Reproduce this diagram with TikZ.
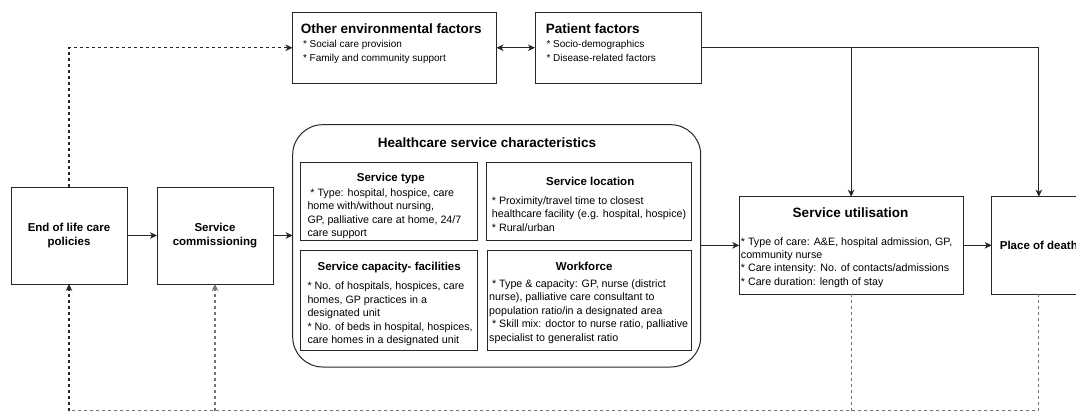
\documentclass[tikz,border=0pt]{standalone}
\usepackage{fontspec}
\setmainfont{Liberation Sans}
\usetikzlibrary{arrows.meta}
% strut that fixes the height of the first line of a text block
\newcommand\firstln{\rule{0pt}{0.8em}}
\begin{document}
\begin{tikzpicture}[x=1pt,y=-1pt,
  box/.style={draw=black!85, line width=1pt, inner sep=0pt, outer sep=0pt, anchor=north west},
  tip/.style={-{Stealth[length=7pt,width=6.5pt,inset=2pt]}},
  flow/.style={draw=black!85, line width=1pt, tip},
  dotdark/.style={draw=black!85, line width=1.2pt, dash pattern=on 3pt off 3pt},
  dotgray/.style={draw=black!55, line width=1.2pt, dash pattern=on 3pt off 3pt},
  head/.style={font=\fontsize{13.5}{16}\selectfont\bfseries, inner sep=0pt, anchor=base},
  subhead/.style={font=\fontsize{11.5}{14}\selectfont\bfseries, inner sep=0pt, anchor=base},
  small/.style={font=\fontsize{10}{14.1}\selectfont, inner sep=0pt, anchor=north west, align=left},
  body/.style={font=\fontsize{10.7}{13.5}\selectfont, inner sep=0pt, anchor=north west, align=left},
  sbody/.style={font=\fontsize{10.7}{13.33}\selectfont, inner sep=0pt, anchor=north west, align=left},
  label/.style={font=\fontsize{11.5}{14}\selectfont\bfseries, align=center},
]
\useasboundingbox (0,0) rectangle (1076,412);
\clip (0,0) rectangle (1076,412);

% ---- boxes ----
\node[box, minimum width=204, minimum height=70.5] (env) at (292.5,12.5) {};
\node[box, minimum width=166, minimum height=70.5] (pat) at (535,12.5) {};
\node[box, minimum width=116, minimum height=97, label] (eol) at (11,187) {End of life care\\policies};
\node[box, minimum width=116, minimum height=97, label] (com) at (157,187) {Service\\commissioning};
\node[box, rounded corners=30pt, minimum width=408, minimum height=242.3] (hsc) at (292.7,124.7) {};
\node[box, minimum width=176.6, minimum height=77.9] (stype) at (300.7,162.3) {};
\node[box, minimum width=204.1, minimum height=78.2] (sloc) at (486.9,162.3) {};
\node[box, minimum width=176.6, minimum height=100] (scap) at (300.7,250) {};
\node[box, minimum width=203.8, minimum height=100] (wf) at (487.2,250) {};
\node[box, minimum width=223.7, minimum height=97.3] (su) at (739.3,196.7) {};
\node[box, minimum width=94.3, minimum height=97.3, label] (pod) at (991.7,196.7) {Place of death};

% ---- texts ----
\node[head, anchor=base west] (envT) at (300.6,33.4) {Other environmental factors};
\node[small] (envL) at (302.8,39.3) {\firstln* Social care provision\\* Family and community support};
\node[head, anchor=base west] (patT) at (545.7,33.5) {Patient factors};
\node[small] (patL) at (546.3,39.4) {\firstln* Socio-demographics\\* Disease-related factors};

\node[head] (hscT) at (487,147.5) {Healthcare service characteristics};

\node[subhead] (stypeT) at (390.8,181.8) {Service type};
\node[body] (stypeL) at (307.3,187.7) {\firstln\hspace*{2.9pt}* Type: hospital, hospice, care\\home with/without nursing,\\GP, palliative care at home, 24/7\\care support};

\node[subhead] (slocT) at (590.2,185.8) {Service location};
\node[body] (slocL) at (491.7,195.3) {\firstln* Proximity/travel time to closest\\healthcare facility (e.g. hospital, hospice)\\* Rural/urban};

\node[subhead] (scapT) at (389.2,270.8) {Service capacity- facilities};
\node[body] (scapL) at (307.3,281.0) {\firstln* No. of hospitals, hospices, care\\homes, GP practices in a\\designated unit\\* No. of beds in hospital, hospices,\\care homes in a designated unit};

\node[subhead] (wfT) at (584.2,270.1) {Workforce};
\node[body] (wfL) at (489,278.6) {\firstln\hspace*{2.9pt}* Type \& capacity: GP, nurse (district\\nurse), palliative care consultant to\\population ratio/in a designated area\\\hspace*{2.9pt}* Skill mix: doctor to nurse ratio, palliative\\specialist to generalist ratio};

\node[head] (suT) at (850.5,217.2) {Service utilisation};
\node[sbody] (suL) at (740.7,236.3) {\firstln* Type of care: A\&E, hospital admission, GP,\\community nurse\\* Care intensity: No. of contacts/admissions\\* Care duration: length of stay};

% ---- connectors ----
\draw[flow] (eol) -- (com);
\draw[flow] (com.east) -- (com.east -| hsc.west);
\draw[flow] (su.west -| hsc.east) -- (su.west);
\draw[flow] (su) -- (pod);
\draw[flow, {Stealth[length=7pt,width=6.5pt,inset=2pt]}-{Stealth[length=7pt,width=6.5pt,inset=2pt]}] (env) -- (pat);
\draw[flow] (pat.east) -- (pat.east -| pod.north) -- (pod.north);
\draw[flow] (pat.east -| su.north) -- (su.north);

% policy feedback to the environment
\draw[dotdark, tip] (eol.north) -- (eol.north |- env.west) -- (env.west);

% feedback loop along the bottom
\coordinate (fbk) at (69,410.5);
\draw[dotgray] (pod.south) -- (pod.south |- fbk) -- (fbk);
\draw[dotgray] (su.south) -- (su.south |- fbk);
\draw[dotgray, tip] (com.south |- fbk) -- (com.south);
\draw[dotdark, tip] (fbk) -- (eol.south);
\end{tikzpicture}
\end{document}
